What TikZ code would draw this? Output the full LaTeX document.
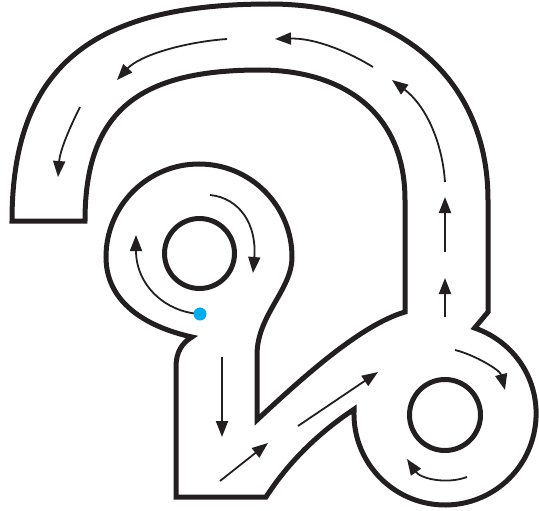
\documentclass[tikz,border=0pt]{standalone}
\usetikzlibrary{arrows.meta}
\definecolor{ink}{RGB}{35,31,32}
\definecolor{dotblue}{RGB}{0,174,239}
\begin{document}
\begin{tikzpicture}[x=1pt,y=-1pt,
  track/.style={draw=ink, line width=5pt, line join=miter},
  ring/.style={draw=ink, line width=5pt},
  flow/.style={draw=ink, line width=1.8pt, -{Triangle[length=16pt,width=12pt]}}]
\useasboundingbox (0,0) rectangle (539,511);
% track outline
\draw[track] (12,221)
 .. controls (12,60) and (100,4) .. (270,4)
 .. controls (400,4) and (488,80) .. (488,200)
 -- (488,312) -- (474.6,328)
 .. controls (519.2,343.4) and (544.3,388.5) .. (533.7,434.5)
 .. controls (523.1,480.5) and (479.0,510.7) .. (432.3,504.1)
 .. controls (385.6,497.5) and (351.6,456.3) .. (354.1,409.2)
 .. controls (320,432) and (290,460) .. (266,497)
 -- (176,497) -- (176,367)
 .. controls (176,352) and (182,343) .. (192,337)
 .. controls (160,330) and (106,310) .. (106,257)
 .. controls (106,205.6) and (147.6,164) .. (199,164)
 .. controls (250.4,164) and (292,205.6) .. (292,257)
 .. controls (292,290) and (257,315) .. (257,355)
 -- (257,420)
 .. controls (300,380) and (360,325) .. (405,312)
 -- (405,200)
 .. controls (405,110) and (340,70) .. (260,70)
 .. controls (140,70) and (85,110) .. (85,221)
 -- cycle;
% islands
\draw[ring] (199.5,253.5) circle[radius=35pt];
\draw[ring] (445,415) circle[radius=35.5pt];
% flow arrows
\draw[flow] (373,67) .. controls (340,47) and (310,38) .. (275,39);
\draw[flow] (227,39) .. controls (185,42) and (140,55) .. (117,80);
\draw[flow] (80,107) .. controls (70,127) and (60,150) .. (58,177);
\draw[flow] (445,182) .. controls (442,140) and (425,105) .. (392,80);
\draw[flow] (445,252) -- (445,197);
\draw[flow] (445,317) -- (445,278);
\draw[flow] (455,350) .. controls (475,355) and (500,370) .. (505,390);
\draw[flow] (467,477) .. controls (445,485) and (420,478) .. (407,459);
\draw[flow] (298,426) -- (378,372);
\draw[flow] (220,481) -- (268,443);
\draw[flow] (222,357) -- (222,437);
\draw[flow] (210,195) .. controls (240,198) and (257,225) .. (253,273);
\draw[flow] (200,314) .. controls (165,312) and (136,285) .. (136,235);
% start point
\fill[dotblue] (200,314) circle[radius=6.5pt];
\end{tikzpicture}
\end{document}
